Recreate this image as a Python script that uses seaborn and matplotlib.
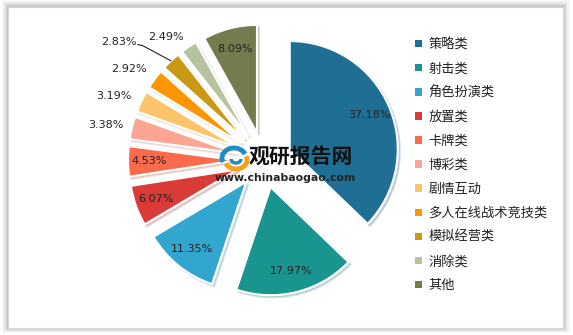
import matplotlib
matplotlib.use("Agg")
import matplotlib.pyplot as plt
import seaborn as sns
import numpy as np
from matplotlib.patches import Rectangle, Arc
from matplotlib.lines import Line2D

sns.set_theme(style="white")
plt.rcParams['font.family'] = ['Noto Sans CJK SC', 'DejaVu Sans']

categories = ["策略类", "射击类", "角色扮演类", "放置类", "卡牌类", "博彩类",
              "剧情互动", "多人在线战术竞技类", "模拟经营类", "消除类", "其他"]
values = [37.18, 17.97, 11.35, 6.07, 4.53, 3.38, 3.19, 2.92, 2.83, 2.49, 8.09]
colors = ["#1F6F94", "#1A948F", "#32A6CF", "#DB3B37", "#FA6A4B", "#FDA594",
          "#FEC46B", "#FD9500", "#C99914", "#B7C29E", "#737B4F"]

W, H = 573, 335
fig = plt.figure(figsize=(W / 100, H / 100), dpi=100)
fig.patch.set_facecolor("white")
ax = fig.add_axes([0, 0, 1, 1])

# frame with soft shadow
for i, a in enumerate(np.linspace(0.10, 0.02, 6)):
    ax.add_patch(Rectangle((8 - i * 1.2, 7 - i * 1.0), 555 + i * 2.6, 321 + i * 2.4,
                           facecolor=(0, 0, 0, a), edgecolor="none", zorder=0))
ax.add_patch(Rectangle((8, 7), 555, 321, facecolor="white", edgecolor="#D6D6D6",
                       linewidth=0.8, zorder=0.5))

cx, cy, R = 264, H - 160, 108
explode = [28] * len(values)
wedges, _ = ax.pie(values, colors=colors, startangle=90, counterclock=False,
                   explode=explode, radius=R, center=(cx, cy),
                   wedgeprops=dict(edgecolor="white", linewidth=1.5),
                   shadow={'ox': 1.5, 'oy': -1.5, 'shade': 0.3, 'alpha': 0.18},
                   frame=True)

# labels
inner_r = 0.8
outer = {5: (1.24, 1.5), 6: (1.25, 3.0), 7: (1.25, 3.0), 8: (1.48, 9.0), 9: (1.2, 6.0)}
for i, (w, v) in enumerate(zip(wedges, values)):
    th = np.deg2rad(0.5 * (w.theta1 + w.theta2))
    ex, ey = w.center
    if i in outer:
        f, dth = outer[i]
        th2 = th + np.deg2rad(dth)
        x = ex + f * R * np.cos(th2)
        y = ey + f * R * np.sin(th2)
        ax.text(x, y, f"{v:.2f}%", ha="center", va="center", fontsize=8,
                color="#222222", family="DejaVu Sans", zorder=6)
        if i == 8:
            px = ex + R * np.cos(th)
            py = ey + R * np.sin(th)
            ax.add_line(Line2D([x + 19, x + 24, px], [y - 3, y - 4, py],
                               color="#222222", lw=0.8, zorder=6))
    else:
        x = ex + inner_r * R * np.cos(th)
        y = ey + inner_r * R * np.sin(th)
        ax.text(x, y, f"{v:.2f}%", ha="center", va="center", fontsize=8,
                color="#222222", family="DejaVu Sans", zorder=6)

# watermark
ax.add_patch(Arc((234, H - 158), 24, 20, theta1=20, theta2=200, color="#1D8DC4", lw=3.5, zorder=7))
ax.add_patch(Arc((236, H - 160), 22, 18, theta1=200, theta2=380, color="#F7A21B", lw=3.5, zorder=7))
ax.add_patch(Arc((236, H - 159), 10, 8, theta1=180, theta2=360, color="#1D8DC4", lw=2.5, zorder=7))
ax.text(249, H - 156, "观研报告网", fontsize=15, fontweight="bold", color="#111111",
        ha="left", va="center", zorder=7)
ax.text(285, H - 178, "www.chinabaogao.com", fontsize=7.8, fontweight="bold", color="#222222",
        ha="center", va="center", family="DejaVu Sans", zorder=7)

# legend
handles = [Rectangle((0, 0), 1, 1, facecolor=c, edgecolor="none") for c in colors]
leg = fig.legend(handles, categories, loc="upper left", bbox_to_anchor=(415 / W, 1 - 38 / H),
                 frameon=False, fontsize=9.5, handlelength=0.5, handleheight=0.5,
                 handletextpad=0.5, labelspacing=0.84, borderaxespad=0, borderpad=0)
for t in leg.get_texts():
    t.set_color("#222222")

ax.set_xlim(0, W)
ax.set_ylim(0, H)
ax.set_aspect("auto")
ax.axis("off")
fig.savefig("out.png", dpi=100, facecolor="white")
